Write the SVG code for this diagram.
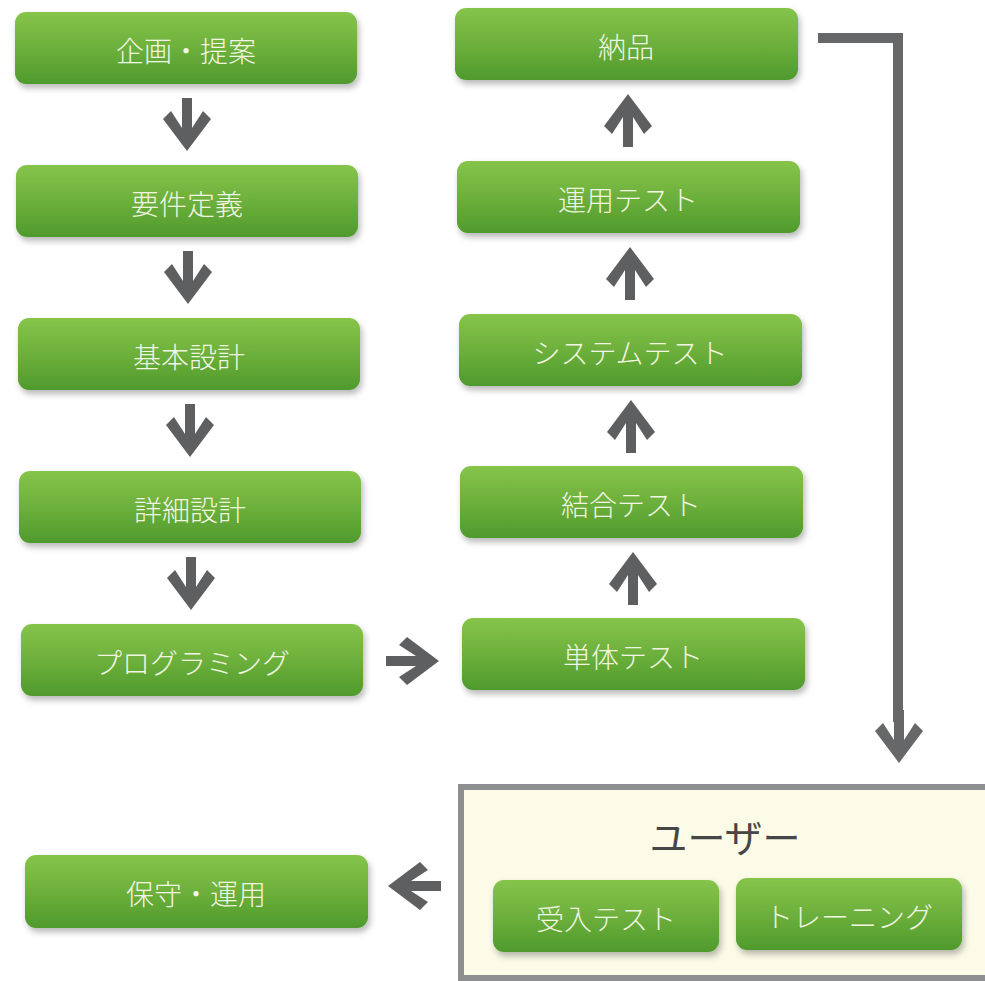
<svg xmlns="http://www.w3.org/2000/svg" width="985" height="981" viewBox="0 0 985 981">
  <defs>
    <linearGradient id="g" x1="0" y1="0" x2="0" y2="1">
      <stop offset="0" stop-color="#86c44b"/>
      <stop offset="0.55" stop-color="#6aae3a"/>
      <stop offset="1" stop-color="#4f9a2d"/>
    </linearGradient>
    <filter id="sh" x="-10%" y="-20%" width="120%" height="150%">
      <feDropShadow dx="2" dy="4" stdDeviation="3" flood-color="#000" flood-opacity="0.28"/>
    </filter>
    <path id="arr" d="M-5,0 H5 V30 L16,13 L24,21 L0,53 L-24,21 L-16,13 L-5,30 Z"/>
    <style>
      .box{fill:url(#g);filter:url(#sh)}
      .lbl{font-family:"Noto Sans CJK JP","Noto Sans",sans-serif;font-size:28px;font-weight:300;fill:#f1f6e2;text-anchor:middle}
      .arrow{fill:#5e5f60}
      .title{font-family:"Noto Sans CJK JP","Noto Sans",sans-serif;font-size:38px;font-weight:400;fill:#464646;text-anchor:middle}
    </style>
  </defs>
  <rect width="985" height="981" fill="#ffffff"/>

  <g id="user-group">
    <rect x="461" y="787" width="530" height="191" fill="#fbfbe8" stroke="#8d8f91" stroke-width="6"/>
    <text class="title" x="725" y="852">ユーザー</text>
  </g>

  <g id="n1"><rect class="box" x="15" y="12" width="342" height="72" rx="11"/><text class="lbl" x="186" y="62">企画・提案</text></g>
  <g id="n2"><rect class="box" x="16" y="165" width="342" height="72" rx="11"/><text class="lbl" x="187" y="215">要件定義</text></g>
  <g id="n3"><rect class="box" x="18" y="318" width="342" height="72" rx="11"/><text class="lbl" x="189" y="368">基本設計</text></g>
  <g id="n4"><rect class="box" x="19" y="471" width="342" height="72" rx="11"/><text class="lbl" x="190" y="521">詳細設計</text></g>
  <g id="n5"><rect class="box" x="21" y="624" width="342" height="72" rx="11"/><text class="lbl" x="192" y="674">プログラミング</text></g>

  <g id="n6"><rect class="box" x="462" y="618" width="343" height="72" rx="11"/><text class="lbl" x="633" y="668">単体テスト</text></g>
  <g id="n7"><rect class="box" x="460" y="466" width="343" height="72" rx="11"/><text class="lbl" x="631" y="516">結合テスト</text></g>
  <g id="n8"><rect class="box" x="459" y="314" width="343" height="72" rx="11"/><text class="lbl" x="630" y="364">システムテスト</text></g>
  <g id="n9"><rect class="box" x="457" y="161" width="343" height="72" rx="11"/><text class="lbl" x="628" y="211">運用テスト</text></g>
  <g id="n10"><rect class="box" x="455" y="8" width="343" height="72" rx="11"/><text class="lbl" x="626" y="58">納品</text></g>

  <g id="n11"><rect class="box" x="493" y="880" width="226" height="72" rx="11"/><text class="lbl" x="606" y="930">受入テスト</text></g>
  <g id="n12"><rect class="box" x="736" y="878" width="226" height="72" rx="11"/><text class="lbl" x="849" y="928">トレーニング</text></g>

  <g id="n13"><rect class="box" x="25" y="855" width="343" height="73" rx="11"/><text class="lbl" x="196" y="905">保守・運用</text></g>

  <g id="connectors" class="arrow">
    <use href="#arr" transform="translate(187,98)"/>
    <use href="#arr" transform="translate(188,251)"/>
    <use href="#arr" transform="translate(190,404)"/>
    <use href="#arr" transform="translate(191,557)"/>
    <use href="#arr" transform="translate(386,661) rotate(-90)"/>
    <use href="#arr" transform="translate(633,605) rotate(180)"/>
    <use href="#arr" transform="translate(631,453) rotate(180)"/>
    <use href="#arr" transform="translate(630,300) rotate(180)"/>
    <use href="#arr" transform="translate(628,147) rotate(180)"/>
    <path d="M818,38 H898 V722" fill="none" stroke="#666768" stroke-width="10"/>
    <use href="#arr" transform="translate(899,710)" fill="#666768"/>
    <use href="#arr" transform="translate(441,886) rotate(90)"/>
  </g>
</svg>
